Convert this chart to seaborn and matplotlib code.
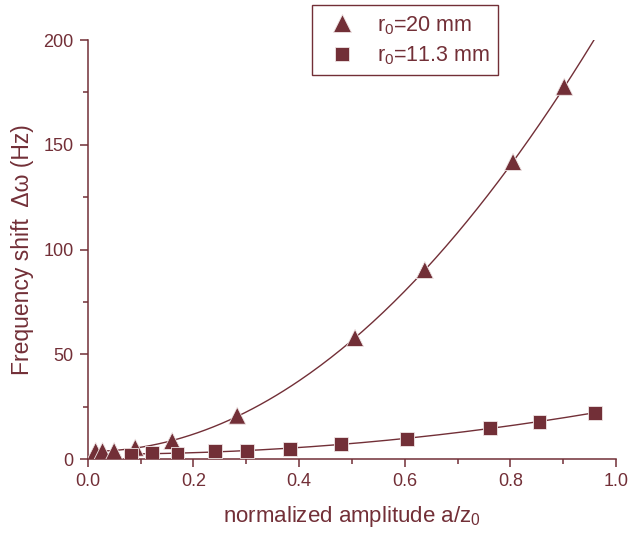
import numpy as np
import pandas as pd
import matplotlib
matplotlib.use("Agg")
import matplotlib.pyplot as plt
from matplotlib.ticker import MultipleLocator
import seaborn as sns

# data
x_r20 = [0.015, 0.028, 0.050, 0.090, 0.160, 0.283, 0.506, 0.638, 0.805, 0.902]
y_r20 = [3.8, 3.8, 3.8, 5.4, 8.6, 20.7, 57.8, 90.2, 141.8, 177.7]
x_r11 = [0.082, 0.121, 0.170, 0.241, 0.302, 0.382, 0.480, 0.605, 0.762, 0.855, 0.960]
y_r11 = [2.1, 2.9, 2.5, 4.0, 4.0, 4.9, 7.0, 9.7, 15.0, 17.8, 22.1]
labels = [r"r$_\mathregular{0}$=20 mm", r"r$_\mathregular{0}$=11.3 mm"]

col = "#722f37"

sns.set_style("ticks")
plt.rcParams["font.family"] = ["Liberation Sans", "DejaVu Sans"]
plt.rcParams["mathtext.fontset"] = "custom"
plt.rcParams["mathtext.rm"] = "Liberation Sans"
plt.rcParams["mathtext.it"] = "Liberation Sans:italic"

df = pd.concat([
    pd.DataFrame({"x": x_r20, "y": y_r20, "series": labels[0]}),
    pd.DataFrame({"x": x_r11, "y": y_r11, "series": labels[1]}),
])

# quadratic fit curves through each series
fits = []
for xs, ys, lab, xend in [(x_r20, y_r20, labels[0], 1.0), (x_r11, y_r11, labels[1], max(x_r11))]:
    p = np.polyfit(xs, ys, 2)
    xx = np.linspace(min(xs), xend, 200)
    fits.append(pd.DataFrame({"x": xx, "y": np.polyval(p, xx), "series": lab}))
fit_df = pd.concat(fits)

fig = plt.figure(figsize=(6.28, 5.34), dpi=100)
ax = fig.add_axes([0.1397, 0.1404, 0.8413, 0.7846])

sns.lineplot(data=fit_df, x="x", y="y", units="series", estimator=None,
             color=col, lw=1.0, ax=ax, legend=False, sort=False)
sns.scatterplot(data=df, x="x", y="y", hue="series", style="series", size="series",
                markers={labels[0]: "^", labels[1]: "s"},
                palette={labels[0]: col, labels[1]: col},
                sizes={labels[0]: 150, labels[1]: 100},
                edgecolor="#f0e6e6", linewidth=0.6, ax=ax, zorder=3)

ax.set_xlim(0, 1.0)
ax.set_ylim(0, 200)
ax.xaxis.set_major_locator(MultipleLocator(0.2))
ax.xaxis.set_minor_locator(MultipleLocator(0.1))
ax.yaxis.set_major_locator(MultipleLocator(50))
ax.yaxis.set_minor_locator(MultipleLocator(25))
ax.set_xticklabels([f"{v:.1f}" for v in ax.get_xticks()])

sns.despine(ax=ax)
for sp in ["left", "bottom"]:
    ax.spines[sp].set_color(col)
    ax.spines[sp].set_linewidth(1.1)
ax.tick_params(which="major", direction="out", length=6, width=1.1,
               color=col, labelcolor=col, labelsize=13, pad=4)
ax.tick_params(which="minor", direction="out", length=3.5, width=1.1, color=col)

ax.set_xlabel(r"normalized amplitude a/z$_\mathregular{0}$", color=col, fontsize=16, labelpad=10)
ax.set_ylabel("Frequency shift  \u0394\u03c9 (Hz)", color=col, fontsize=16.5, labelpad=7)

handles, labs = ax.get_legend_handles_labels()
ax.get_legend().remove()
leg = fig.legend(handles, labs, loc="upper left", bbox_to_anchor=(0.497, 0.99),
                 frameon=True, fancybox=False, framealpha=1, edgecolor=col,
                 fontsize=15.5, borderpad=0.4, handletextpad=0.6, labelspacing=0.35,
                 borderaxespad=0)
leg.get_frame().set_linewidth(1.0)
for t in leg.get_texts():
    t.set_color(col)

fig.savefig("out.png", dpi=100)
